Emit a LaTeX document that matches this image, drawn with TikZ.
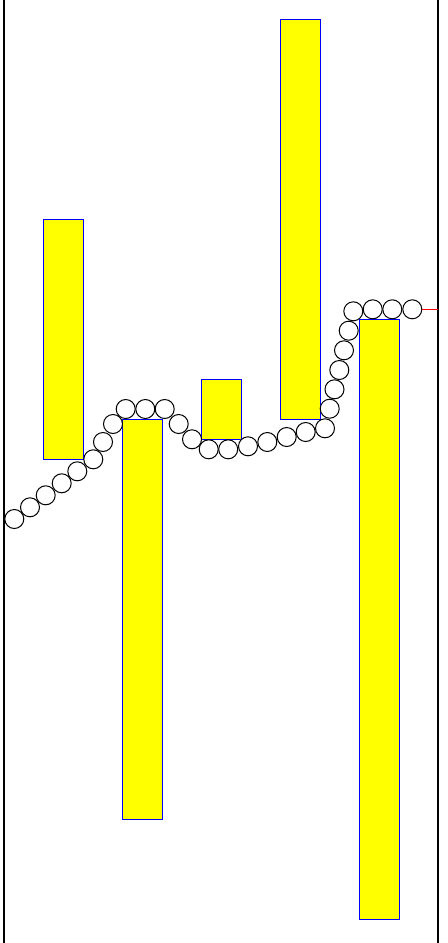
\documentclass[tikz,border=0pt]{standalone}
\definecolor{baryellow}{RGB}{255,255,0}
\definecolor{barblue}{RGB}{0,0,255}
\definecolor{tetherred}{RGB}{255,0,0}
\begin{document}
\begin{tikzpicture}[x=0.75pt,y=-0.75pt,
  bar/.style={draw=barblue,fill=baryellow,line width=0.6pt,inner sep=0pt,minimum width=30pt},
  bead/.style={circle,draw=black,fill=white,line width=0.75pt,inner sep=0pt,minimum size=14.25pt},
  wall/.style={draw=black,line width=1.3pt},
  tether/.style={draw=tetherred,line width=0.75pt}]
\useasboundingbox (0,0) rectangle (448,943);
% walls
\draw[wall] (4,0) -- (4,943);
\draw[wall] (438,0) -- (438,943);
% bars
\node[bar,minimum height=180pt] (r1) at (63,339) {};
\node[bar,minimum height=300pt] (r2) at (142,619) {};
\node[bar,minimum height=45pt] (r3) at (221,409) {};
\node[bar,minimum height=300pt] (r4) at (300,219) {};
\node[bar,minimum height=450pt] (r5) at (379,619) {};
% beads
\foreach \p [count=\i] in {(14.3,519),(30,507.3),(45.7,495.3),(61.7,483.3),(77.3,471.3),(93.3,459.3),(103,442),(113,424),(125.7,409),(145.3,409),(164.7,409),(178.7,424),(192,439.3),(208.7,449.3),(228.2,449.3),(248,446.3),(267.3,442),(286.7,437),(305.7,432),(325,428.3),(329.7,408.7),(334.5,389.3),(339.3,370),(344,350.3),(348.7,330.7),(353.3,311.3),(372.7,309.3),(392.3,309.3),(412.3,309.3)}
  \node[bead] (c\i) at \p {};
% tether
\coordinate (anchor) at (438,309.3);
\draw[tether] (c29.east) -- (anchor);
\end{tikzpicture}
\end{document}
